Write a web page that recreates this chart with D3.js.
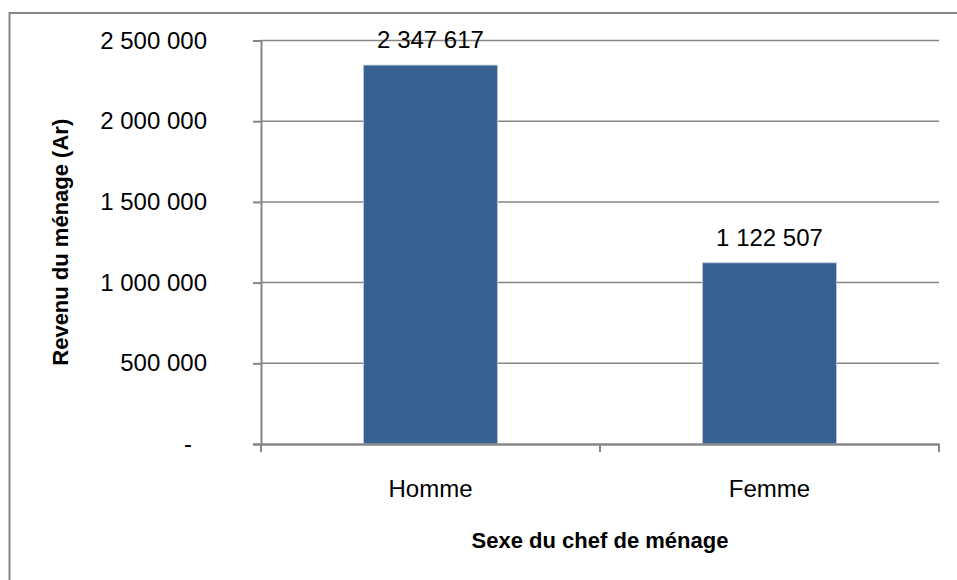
<!DOCTYPE html>
<html>
<head>
<meta charset="utf-8">
<script src="https://cdn.jsdelivr.net/npm/d3@7"></script>
<style>
  body { margin: 0; background: #fff; }
  text { font-family: Arial, "Liberation Sans", sans-serif; fill: #000; }
</style>
</head>
<body>
<div class="canva"></div>
<script>
// data
const categories = ['Homme', 'Femme'];
const revenus = [2347617, 1122507];
const yTicks = [0, 500000, 1000000, 1500000, 2000000, 2500000];
const yTitle = 'Revenu du ménage (Ar)';
const xTitle = 'Sexe du chef de ménage';

const W = 957, H = 580;
const plot = {left: 261, right: 939, top: 40.5, bottom: 444};

const svg = d3.select('.canva').append('svg')
              .attr('width', W)
              .attr('height', H);

// outer frame (right/bottom edges run off the picture)
svg.append('path')
   .attr('d', `M9.5,${H + 5} V13 H${W + 5}`)
   .attr('fill', 'none')
   .attr('stroke', '#868686')
   .attr('stroke-width', 2);

// number format with spaces
const loc = d3.formatLocale({decimal: ',', thousands: ' ', grouping: [3], currency: ['', '']});
const fmt = loc.format(',d');

const gap = 0.605;
const x = d3.scaleBand()
            .domain(categories)
            .range([plot.left, plot.right])
            .paddingInner(gap)
            .paddingOuter(gap / 2);

const y = d3.scaleLinear()
            .domain([0, 2500000])
            .range([plot.bottom, plot.top]);

// gridlines
svg.append('g')
   .selectAll('line')
   .data(yTicks.filter(d => d > 0))
   .enter().append('line')
   .attr('x1', plot.left)
   .attr('x2', plot.right)
   .attr('y1', d => y(d))
   .attr('y2', d => y(d))
   .attr('stroke', '#868686')
   .attr('stroke-width', 1.5);

// y axis
const yAxisGroup = svg.append('g')
                      .attr('transform', `translate(${plot.left},0)`)
                      .call(d3.axisLeft(y)
                              .tickValues(yTicks)
                              .tickSize(8)
                              .tickPadding(46)
                              .tickFormat(d => d === 0 ? '-' : fmt(d)));
yAxisGroup.selectAll('path, line')
          .attr('stroke', '#868686')
          .attr('stroke-width', 2);
yAxisGroup.selectAll('text')
          .style('font-size', '24px')
          .attr('fill', '#000');
// accounting style dash sits further left
yAxisGroup.selectAll('.tick text')
          .filter(d => d === 0)
          .attr('dx', '-15');

// bars
svg.append('g')
   .selectAll('rect')
   .data(revenus)
   .enter().append('rect')
   .attr('x', (d, i) => x(categories[i]))
   .attr('y', d => y(d))
   .attr('width', x.bandwidth())
   .attr('height', d => y(0) - y(d))
   .attr('fill', '#376191')
   .attr('stroke', '#b9c7da')
   .attr('stroke-width', 0.8);

// x axis line
const xAxisGroup = svg.append('g')
                      .attr('transform', `translate(0,${plot.bottom})`)
                      .call(d3.axisBottom(x).tickSize(0).tickPadding(36));
xAxisGroup.select('.domain')
          .attr('stroke', '#868686')
          .attr('stroke-width', 2.5);
xAxisGroup.selectAll('text')
          .style('font-size', '24px')
          .attr('fill', '#000');

// category boundary ticks
const bounds = [plot.left].concat(categories.map(c => x(c) + x.bandwidth() + x.step() * gap / 2));
svg.append('g')
   .selectAll('line')
   .data(bounds)
   .enter().append('line')
   .attr('x1', d => d)
   .attr('x2', d => d)
   .attr('y1', plot.bottom)
   .attr('y2', plot.bottom + 8)
   .attr('stroke', '#868686')
   .attr('stroke-width', 2);

// data labels
svg.append('g')
   .selectAll('text')
   .data(revenus)
   .enter().append('text')
   .attr('x', (d, i) => x(categories[i]) + x.bandwidth() / 2)
   .attr('y', d => y(d) - 17)
   .attr('text-anchor', 'middle')
   .style('font-size', '24px')
   .text(d => fmt(d));

// axis titles
svg.append('text')
   .attr('transform', `translate(68,${(plot.top + plot.bottom) / 2}) rotate(-90)`)
   .attr('text-anchor', 'middle')
   .style('font-size', '22px')
   .style('font-weight', 'bold')
   .text(yTitle);

svg.append('text')
   .attr('x', (plot.left + plot.right) / 2)
   .attr('y', 548)
   .attr('text-anchor', 'middle')
   .style('font-size', '22px')
   .style('font-weight', 'bold')
   .text(xTitle);
</script>
</body>
</html>
